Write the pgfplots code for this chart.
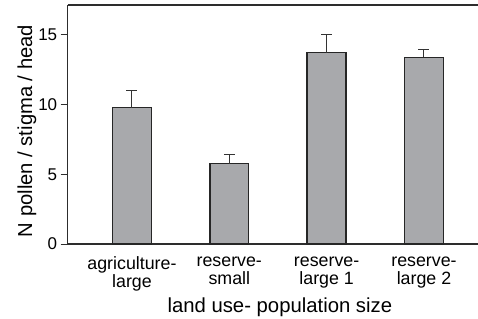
\documentclass[border=0pt]{standalone}
\usepackage{fontspec}
\setmainfont{Liberation Sans}
\usepackage{pgfplots}
\pgfplotsset{compat=1.18}
\definecolor{barfill}{RGB}{168,169,172}
\definecolor{axcol}{RGB}{45,45,45}
\begin{document}
\begin{tikzpicture}
\begin{axis}[
  scale only axis,
  width=410.3pt, height=239pt,
  xmin=0.34, xmax=4.555,
  ymin=0, ymax=17.13,
  axis x line*=box,
  axis y line*=left,
  axis line style={axcol, line width=1.3pt},
  xtick={1,2,3,4},
  xticklabels={{agriculture-\\large},{reserve-\\small},{reserve-\\large 1},{reserve-\\large 2}},
  x tick label style={align=center, font=\fontsize{17.8}{18}\selectfont, yshift=-2pt},
  major x tick style={draw=none},
  ytick={0,5,10,15},
  y tick label style={font=\fontsize{17}{18}\selectfont},
  tick align=outside,
  ytick style={axcol, line width=1pt},
  major tick length=7pt,
  /pgf/number format/assume math mode=true,
  ylabel={N pollen / stigma / head},
  ylabel style={at={(ticklabel cs:0.473)}, font=\fontsize{20.2}{22}\selectfont, yshift=-5pt},
  xlabel={land use- population size},
  xlabel style={font=\fontsize{20.3}{22}\selectfont, yshift=0pt, xshift=7pt},
  clip=false,
]
\addplot[ybar, bar width=0.4, fill=barfill, draw=black!85, line width=1.4pt,
  error bars/.cd, y dir=plus, y explicit,
  error bar style={line width=1pt, black!80},
  error mark options={rotate=90, mark size=5.5pt, line width=1pt, black!80}]
  coordinates {
  (1,9.77) +- (0,1.22)
  (2,5.76) +- (0,0.62)
  (3,13.71) +- (0,1.32)
  (4,13.38) +- (0,0.55)
};
\end{axis}
\pgfresetboundingbox
\path (current axis.south west) ++(-67.7pt,-74pt) rectangle ++(478pt,318pt);
\end{tikzpicture}
\end{document}
